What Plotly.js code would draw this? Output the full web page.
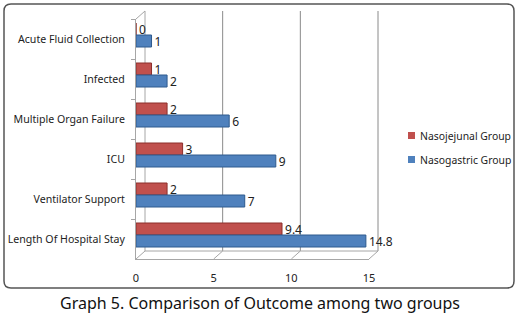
<!DOCTYPE html>
<html><head><meta charset="utf-8">
<script src="https://cdn.plot.ly/plotly-3.0.1.min.js"></script>
<style>html,body{margin:0;padding:0;background:#fff}#chart{width:520px;height:323px}</style>
</head><body><div id="chart"></div>
<script>
const categories = ["Acute Fluid Collection","Infected","Multiple Organ Failure","ICU","Ventilator Support","Length Of Hospital Stay"];
const nasojejunal = [0,1,2,3,2,9.4];
const nasogastric = [1,2,6,9,7,14.8];
const seriesNames = ["Nasojejunal Group","Nasogastric Group"];
const seriesColors = ["#C0504D","#4F81BD"];
const xTicks = [0,5,10,15];
const xMax = 15;

const W=520,H=323,ml=136,mr=151,mt=19,mb=64;
const pw=W-ml-mr, ph=H-mt-mb;
const px=x=>(x-ml)/pw, py=y=>(H-mb-y)/ph;
const dxp=9/pw, dyp=8/ph;
function roundRect(x0,y0,x1,y1,r){
  return `M ${px(x0+r)} ${py(y0)} L ${px(x1-r)} ${py(y0)} Q ${px(x1)} ${py(y0)} ${px(x1)} ${py(y0+r)} `+
         `L ${px(x1)} ${py(y1-r)} Q ${px(x1)} ${py(y1)} ${px(x1-r)} ${py(y1)} `+
         `L ${px(x0+r)} ${py(y1)} Q ${px(x0)} ${py(y1)} ${px(x0)} ${py(y1-r)} `+
         `L ${px(x0)} ${py(y0+r)} Q ${px(x0)} ${py(y0)} ${px(x0+r)} ${py(y0)} Z`;
}
const font="Noto Sans, Open Sans, sans-serif";
const barW=0.3;
const traces=[
 {type:'bar',orientation:'h',name:seriesNames[0],y:categories,x:nasojejunal,offset:-0.4,width:barW,
  marker:{color:seriesColors[0],line:{color:'#8C2E2B',width:1}},
  text:nasojejunal.map(String),textposition:'outside',cliponaxis:false,constraintext:'none',
  textfont:{size:12,color:'#222',family:font}},
 {type:'bar',orientation:'h',name:seriesNames[1],y:categories,x:nasogastric,offset:-0.1,width:barW,
  marker:{color:seriesColors[1],line:{color:'#2E5A8E',width:1}},
  text:nasogastric.map(String),textposition:'outside',cliponaxis:false,constraintext:'none',
  textfont:{size:12,color:'#222',family:font}}
];
const gridC='#8a8a8a', frameC='#a6a6a6';
const shapes=[{type:'path',xref:'paper',yref:'paper',path:roundRect(4,4,514,288,7),line:{color:'#555',width:1.5},layer:'below'}];
xTicks.forEach(v=>{
  const xp=v/xMax;
  shapes.push({type:'line',xref:'paper',yref:'paper',x0:xp+dxp,x1:xp+dxp,y0:dyp,y1:1+dyp,line:{color:v===0?frameC:gridC,width:1},layer:'below'});
  shapes.push({type:'line',xref:'paper',yref:'paper',x0:xp,x1:xp+dxp,y0:0,y1:dyp,line:{color:frameC,width:1},layer:'below'});
});
shapes.push({type:'line',xref:'paper',yref:'paper',x0:dxp,x1:1+dxp,y0:dyp,y1:dyp,line:{color:frameC,width:1},layer:'below'});
shapes.push({type:'line',xref:'paper',yref:'paper',x0:0,x1:dxp,y0:1,y1:1+dyp,line:{color:frameC,width:1},layer:'below'});
[132,156].forEach((yy,i)=>{
  shapes.push({type:'rect',xref:'paper',yref:'paper',x0:px(408),x1:px(415),y0:py(yy+7),y1:py(yy),fillcolor:seriesColors[i],line:{width:0}});
});
const annotations=[{xref:'paper',yref:'paper',x:px(260),y:py(303),text:'Graph 5. Comparison of Outcome among two groups',
   showarrow:false,xanchor:'center',yanchor:'middle',font:{size:16,color:'#111',family:font}}];
[135.5,159.5].forEach((yy,i)=>{
  annotations.push({xref:'paper',yref:'paper',x:px(418),y:py(yy),text:seriesNames[i],showarrow:false,
    xanchor:'left',yanchor:'middle',font:{size:10.4,color:'#222',family:font}});
});
const layout={
 width:W,height:H,margin:{l:ml,r:mr,t:mt,b:mb,autoexpand:false},
 paper_bgcolor:'#fff',plot_bgcolor:'rgba(0,0,0,0)',showlegend:false,
 font:{family:font,size:11,color:'#222'},
 xaxis:{range:[0,xMax],tickvals:xTicks,ticktext:xTicks.map(String),showgrid:false,
   showline:true,linecolor:frameC,zeroline:false,tickfont:{size:11,color:'#222'},ticks:'',ticklabelstandoff:9},
 yaxis:{autorange:'reversed',showline:true,linecolor:frameC,ticks:'outside',ticklen:4,tickcolor:frameC,tickson:'boundaries',
   showgrid:false,tickfont:{size:10.6,color:'#222'},ticklabelstandoff:8},
 shapes:shapes,annotations:annotations
};
Plotly.newPlot('chart',traces,layout,{displayModeBar:false,staticPlot:true});
</script></body></html>
